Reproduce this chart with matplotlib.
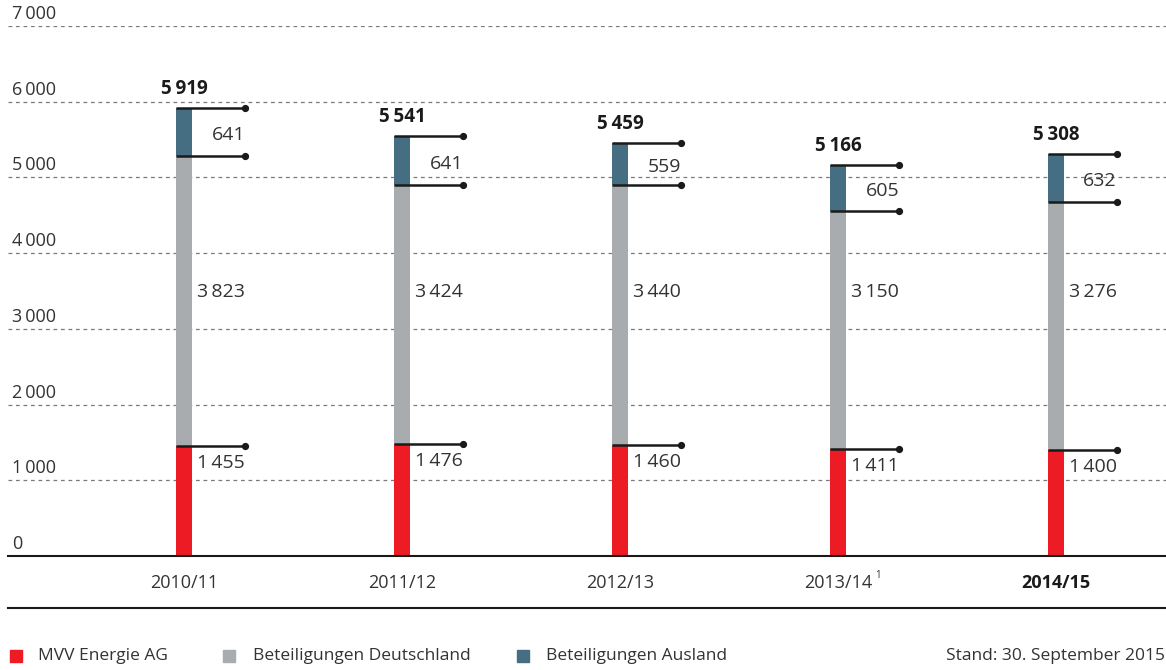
import matplotlib.pyplot as plt
import matplotlib.transforms as mtransforms
from matplotlib.lines import Line2D
from matplotlib.patches import Rectangle

plt.rcParams['font.family'] = ['Open Sans', 'DejaVu Sans']

years = ["2010/11", "2011/12", "2012/13", "2013/14", "2014/15"]
mvv = [1455, 1476, 1460, 1411, 1400]
deutschland = [3823, 3424, 3440, 3150, 3276]
ausland = [641, 641, 559, 605, 632]
totals = [5919, 5541, 5459, 5166, 5308]
series_names = ["MVV Energie AG", "Beteiligungen Deutschland", "Beteiligungen Ausland"]

RED = "#ED1C24"
GREY = "#A8ACAF"
BLUE = "#466E82"
DARK = "#1A1A1A"
TEXT = "#333333"


def fmt(v):
    s = f"{v:,}"
    return s.replace(",", "\u2009")


W, H = 1166, 670
fig = plt.figure(figsize=(W / 100, H / 100), dpi=100)

# axes: x px 8..1166, y px 26..556 (from top)
ax = fig.add_axes([8 / W, (H - 556) / H, (W - 8) / W, 530 / H])
step = 218.0
xl = -(184 - 8) / step
xr = 4 + (1166 - 1056) / step
ax.set_xlim(xl, xr)
ax.set_ylim(0, 7000)
ax.axis("off")

up = lambda px: mtransforms.ScaledTranslation(0, px / 100, fig.dpi_scale_trans)

# dotted gridlines + labels above them
for v in range(1000, 8000, 1000):
    ax.axhline(v, color="#7a7a7a", lw=0.9, ls=(0, (3, 3)), zorder=0)
for v in range(0, 8000, 1000):
    ax.text(xl + 4 / step, v, fmt(v), ha="left", va="bottom", fontsize=13,
            color=TEXT, transform=ax.transData + up(3))

bw = 16 / step
line_end = 61 / step
x = list(range(len(years)))

bottoms2 = [m + d for m, d in zip(mvv, deutschland)]
ax.bar(x, mvv, width=bw, color=RED, zorder=2)
ax.bar(x, deutschland, bottom=mvv, width=bw, color=GREY, zorder=2)
ax.bar(x, ausland, bottom=bottoms2, width=bw, color=BLUE, zorder=2)

for i in x:
    left = i - bw / 2
    right = i + line_end
    for level in (mvv[i], bottoms2[i], totals[i]):
        ax.plot([left, right], [level, level], color=DARK, lw=1.8, zorder=3, solid_capstyle="butt")
        ax.plot([right], [level], "o", color=DARK, ms=4.2, zorder=4)
    # top segment label
    ax.text(right, bottoms2[i] + ausland[i] / 2, fmt(ausland[i]), ha="right", va="center",
            fontsize=14, color=TEXT, zorder=5, transform=ax.transData + up(-3))
    # middle segment label
    ax.text(right, 3490, fmt(deutschland[i]), ha="right", va="center",
            fontsize=14, color=TEXT, zorder=5)
    # bottom segment label
    ax.text(right, mvv[i], fmt(mvv[i]), ha="right", va="top", fontsize=14, color=TEXT,
            zorder=5, transform=ax.transData + up(-8))
    # total
    ax.text(i, totals[i], fmt(totals[i]), ha="center", va="baseline", fontsize=13.5,
            fontweight="bold", color=DARK, transform=ax.transData + up(14))

# x labels
tx = mtransforms.blended_transform_factory(ax.transData, fig.transFigure)
for i, yr in enumerate(years):
    weight = "bold" if i == 4 else "normal"
    color = DARK if i == 4 else TEXT
    ax.text(i, 1 - 583 / H, yr, ha="center", va="center", fontsize=13, fontweight=weight,
            color=color, transform=tx)
    if i == 3:
        ax.text(i + 37 / step, 1 - 576 / H, "1", ha="left", va="center", fontsize=7,
                color=TEXT, transform=tx)

# baseline and bottom rule
fig.add_artist(Line2D([8 / W, 1], [1 - 556 / H] * 2, color=DARK, lw=1.5))
fig.add_artist(Line2D([8 / W, 1], [1 - 608 / H] * 2, color=DARK, lw=1.5))

# legend
leg_y = 1 - 656 / H
for (sx, tx_, c, name) in [(10, 38, RED, series_names[0]), (223, 253, GREY, series_names[1]),
                           (517, 546, BLUE, series_names[2])]:
    fig.add_artist(Rectangle((sx / W, 1 - 662 / H), 12 / W, 12 / H, color=c, transform=fig.transFigure))
    fig.text(tx_ / W, leg_y, name, ha="left", va="center", fontsize=12.5, color=TEXT)
fig.text(1165 / W, leg_y, "Stand: 30. September 2015", ha="right", va="center", fontsize=12.5, color=TEXT)

fig.savefig("out.png", dpi=100)
